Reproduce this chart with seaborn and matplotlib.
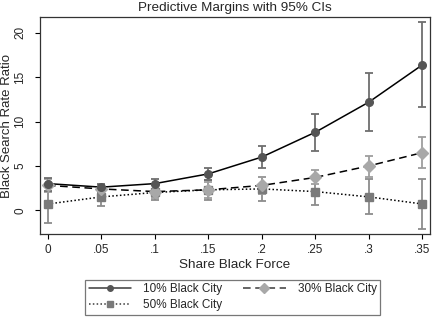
import numpy as np
import pandas as pd
import matplotlib
matplotlib.use("Agg")
import matplotlib.pyplot as plt
import seaborn as sns
from matplotlib.lines import Line2D

share = [0, 0.05, 0.10, 0.15, 0.20, 0.25, 0.30, 0.35]
tick_labels = ["0", ".05", ".1", ".15", ".2", ".25", ".3", ".35"]

city10 = [3.0, 2.6, 3.0, 4.1, 6.0, 8.8, 12.2, 16.4]
city10_lo = [2.2, 2.1, 2.4, 3.4, 4.8, 6.7, 8.9, 11.6]
city10_hi = [3.6, 3.0, 3.5, 4.8, 7.2, 10.9, 15.5, 21.2]

city30 = [2.8, 2.4, 2.1, 2.3, 2.8, 3.7, 5.0, 6.5]
city30_lo = [2.0, 1.9, 1.4, 1.4, 1.8, 2.9, 3.8, 4.8]
city30_hi = [3.5, 2.8, 2.8, 3.2, 3.8, 4.5, 6.1, 8.3]

city50 = [0.7, 1.5, 2.0, 2.3, 2.4, 2.1, 1.5, 0.7]
city50_lo = [-1.4, 0.5, 1.1, 1.1, 1.0, 0.6, -0.4, -2.1]
city50_hi = [2.9, 2.6, 2.9, 3.4, 3.8, 3.6, 3.5, 3.5]

labels = ["10% Black City", "30% Black City", "50% Black City"]

sns.set_style("white")
plt.rcParams["font.family"] = ["Liberation Sans", "DejaVu Sans"]

df = pd.DataFrame({
    "share": share * 3,
    "ratio": city10 + city30 + city50,
    "city": [labels[0]] * 8 + [labels[1]] * 8 + [labels[2]] * 8,
})

fig = plt.figure(figsize=(4.33, 3.19), dpi=100)
ax = fig.add_axes([0.092, 0.266, 0.901, 0.681])

styles = {
    labels[0]: dict(ls="-", marker="o", mc="#555555", ms=5.5, lms=4.0, ec="#6e6e6e"),
    labels[1]: dict(ls=(0, (5, 3)), marker="D", mc="#a8a8a8", ms=6.0, lms=5.5, ec="#9e9e9e"),
    labels[2]: dict(ls=(0, (1, 1.5)), marker="s", mc="#7a7a7a", ms=5.5, lms=5.0, ec="#8c8c8c"),
}
cis = {labels[0]: (city10_lo, city10_hi), labels[1]: (city30_lo, city30_hi),
       labels[2]: (city50_lo, city50_hi)}

# CI bars first
for lab in [labels[2], labels[1], labels[0]]:
    sub = df[df.city == lab]
    lo, hi = cis[lab]
    y = sub.ratio.to_numpy()
    ax.errorbar(sub.share, y, yerr=[y - np.array(lo), np.array(hi) - y], fmt="none",
                ecolor=styles[lab]["ec"], elinewidth=1.3, capsize=3, capthick=1.3, zorder=2)

for lab in [labels[2], labels[1], labels[0]]:
    st = styles[lab]
    sub = df[df.city == lab]
    sns.lineplot(data=sub, x="share", y="ratio", ax=ax, color="black", lw=1.1,
                 linestyle=st["ls"], legend=False, zorder=3)
    ax.plot(sub.share, sub.ratio, ls="none", marker=st["marker"], ms=st["ms"],
            mfc=st["mc"], mec=st["mc"], zorder=4)

ax.set_xlim(-0.0075, 0.357)
ax.set_ylim(-2.7, 21.8)
ax.set_xticks(share)
ax.set_xticklabels(tick_labels)
ax.set_yticks([0, 5, 10, 15, 20])
ax.set_yticklabels(["0", "5", "10", "15", "20"], rotation=90, va="center")
ax.tick_params(axis="both", length=3.6, width=0.8, color="black", labelsize=8.5, direction="out")
ax.tick_params(axis="x", bottom=True, pad=3.5)
ax.tick_params(axis="y", left=True, pad=6)
for sp in ax.spines.values():
    sp.set_color("#333333")
    sp.set_linewidth(0.9)
ax.set_xlabel("Share Black Force", fontsize=9.7, labelpad=2)
ax.set_ylabel("Black Search Rate Ratio", fontsize=9.5)
ax.yaxis.set_label_coords(-0.068, 0.5)
ax.set_title("Predictive Margins with 95% CIs", fontsize=9.7, pad=4)

handles = []
for lab in labels:
    st = styles[lab]
    handles.append(Line2D([], [], color="#3a3a3a", lw=1.1, ls=st["ls"], marker=st["marker"],
                          ms=st["lms"], mfc=st["mc"], mec=st["mc"]))
order = [0, 2, 1]
leg = fig.legend([handles[i] for i in order], [labels[i] for i in order], ncol=2,
                 loc="lower center", bbox_to_anchor=(0.537, -0.006), fontsize=8.5,
                 frameon=True, fancybox=False, edgecolor="#555555", handlelength=3.6,
                 columnspacing=1.8, borderpad=0.3, labelspacing=0.35, handletextpad=1.0)
leg.get_frame().set_linewidth(0.9)

fig.savefig("out.png", dpi=100)
